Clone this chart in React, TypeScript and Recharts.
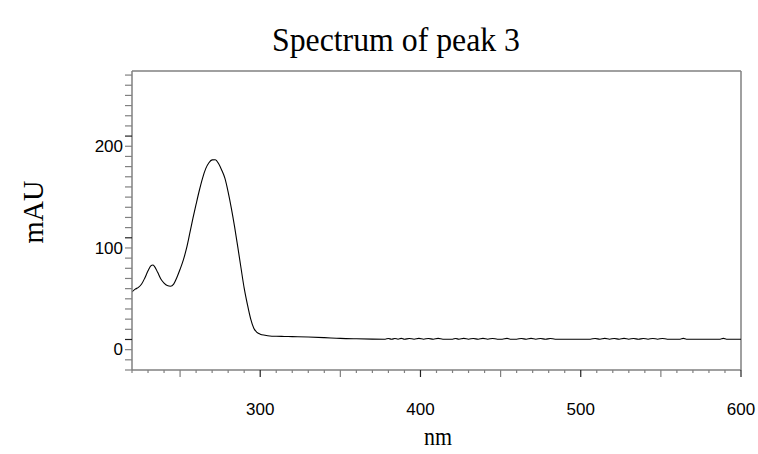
import React from "react";
import { LineChart, Line, XAxis, YAxis, ReferenceLine } from "recharts";

const wavelengths: number[] = [
  220, 222, 224, 226, 228, 230, 232, 233, 234, 236, 238, 240, 242, 244, 246, 248, 250,
  252, 254, 256, 258, 260, 262, 264, 266, 268, 270, 272, 274, 276, 278, 280, 282, 284,
  286, 288, 290, 292, 294, 296, 298, 300, 303, 306, 310, 315, 320, 330, 340, 350, 360,
  370, 378, 380, 382, 384, 386, 388, 390, 393, 396, 399, 402, 405, 408, 411, 414, 417,
  420, 422, 424, 427, 430, 433, 436, 439, 442, 445, 448, 451, 454, 456, 460, 463, 466,
  469, 472, 475, 478, 481, 484, 487, 500, 506, 509, 512, 515, 518, 521, 524, 527, 530,
  533, 536, 539, 542, 545, 548, 551, 554, 558, 562, 564, 566, 575, 587, 589, 591, 600,
];

const absorbance: number[] = [
  46.8, 49.5, 51.2, 54.5, 60.5, 67.5, 72.8, 73.2, 72.0, 66, 59.5, 55.5, 53, 52.4, 54.5, 61, 69,
  78, 89.5, 104, 119, 133, 146.5, 158.5, 168, 173.8, 176.6, 176.8, 173, 166.5, 158.4, 145, 129, 111,
  91, 70.5, 50.5, 34.5, 20.5, 11, 7, 5.2, 4.2, 3.5, 3.2, 3.0, 2.8, 2.4, 1.8, 1.1, 0.7,
  0.4, 0.3, 1.0, 0.2, 1.0, 0.3, 1.1, 0.2, 1.0, 0.3, 1.1, 0.3, 1.0, 0.2, 1.1, 0.3, 0.3,
  0.3, 1.0, 0.2, 1.1, 0.3, 1.0, 0.2, 1.1, 0.3, 1.0, 0.3, 0.3, 1.1, 0.3, 0.3, 1.0, 0.2,
  1.1, 0.3, 1.0, 0.2, 1.0, 0.3, 0.3, 0.3, 0.3, 1.0, 0.2, 1.1, 0.3, 1.0, 0.2, 1.1, 0.3,
  1.0, 0.2, 1.0, 0.3, 1.0, 0.3, 1.0, 0.3, 0.3, 0.3, 1.1, 0.3, 0.3, 0.3, 1.1, 0.3, 0.3,
];

const xTicks: number[] = [];
for (let v = 220; v <= 600; v += 10) xTicks.push(v);
const yTicks: number[] = [];
for (let v = -30; v <= 260; v += 10) yTicks.push(v);
const xLabels = [300, 400, 500, 600];
const yLabels = [0, 100, 200];

const title = "Spectrum of peak 3";
const xTitle = "nm";
const yTitle = "mAU";

const X_DOMAIN: [number, number] = [220, 600];
const Y_DOMAIN: [number, number] = [-30, 264];

const data = wavelengths.map((nm, i) => ({ nm, mAU: absorbance[i] }));

const AXIS_COLOR = "#808080";
const TICK_FONT = "Arial, 'Liberation Sans', sans-serif";
const SERIF = "'Times New Roman', 'Liberation Serif', serif";

const XTick = (props: any) => {
  const { x, y, payload } = props;
  const v = payload.value as number;
  const major = v % 100 === 0;
  const mid = v % 50 === 0;
  const len = major || mid ? 7 : 3;
  return (
    <g>
      <line x1={x} y1={y} x2={x} y2={y + len} stroke={major ? "#222" : AXIS_COLOR} strokeWidth={1.2} />
      {xLabels.includes(v) && (
        <text x={x} y={y + 45} textAnchor="middle" fontFamily={TICK_FONT} fontSize={17} fill="#000">
          {v}
        </text>
      )}
    </g>
  );
};

const YTick = (props: any) => {
  const { x, y, payload } = props;
  const v = payload.value as number;
  const major = v % 100 === 0;
  return (
    <g>
      <line x1={x} y1={y} x2={x - 7} y2={y} stroke={major ? "#222" : AXIS_COLOR} strokeWidth={1.2} />
      {yLabels.includes(v) && (
        <text x={x - 9} y={y + 16} textAnchor="end" fontFamily={TICK_FONT} fontSize={17} fill="#000">
          {v}
        </text>
      )}
    </g>
  );
};

export default function App() {
  return (
    <div style={{ position: "absolute", left: 0, top: 0, width: 758, height: 454, background: "#fff" }}>
      <LineChart
        width={758}
        height={454}
        data={data}
        margin={{ top: 71, right: 17, bottom: 44, left: 72 }}
      >
        <XAxis
          dataKey="nm"
          type="number"
          domain={X_DOMAIN}
          ticks={xTicks}
          interval={0}
          allowDataOverflow
          height={40}
          tickSize={0}
          tickMargin={0}
          tickLine={false}
          axisLine={{ stroke: AXIS_COLOR, strokeWidth: 1.5 }}
          tick={<XTick />}
        />
        <YAxis
          type="number"
          domain={Y_DOMAIN}
          ticks={yTicks}
          interval={0}
          allowDataOverflow
          width={60}
          tickSize={0}
          tickMargin={0}
          tickLine={false}
          axisLine={{ stroke: AXIS_COLOR, strokeWidth: 1.5 }}
          tick={<YTick />}
        />
        <ReferenceLine y={Y_DOMAIN[1]} stroke={AXIS_COLOR} strokeWidth={1.5} />
        <ReferenceLine x={X_DOMAIN[1]} stroke={AXIS_COLOR} strokeWidth={1.5} />
        <Line
          type="monotone"
          dataKey="mAU"
          stroke="#000"
          strokeWidth={1.1}
          dot={false}
          activeDot={false}
          isAnimationActive={false}
        />
      </LineChart>
      <svg
        width={758}
        height={454}
        style={{ position: "absolute", left: 0, top: 0, pointerEvents: "none" }}
      >
        <text
          x={396}
          y={51}
          textAnchor="middle"
          fontFamily={SERIF}
          fontSize={33}
          textLength={248}
          lengthAdjust="spacingAndGlyphs"
          fill="#000"
        >
          {title}
        </text>
        <text
          x={33}
          y={212}
          textAnchor="middle"
          dominantBaseline="central"
          transform="rotate(-90, 33, 212)"
          fontFamily={SERIF}
          fontSize={29}
          textLength={63}
          lengthAdjust="spacingAndGlyphs"
          fill="#000"
        >
          {yTitle}
        </text>
        <text
          x={438}
          y={445}
          textAnchor="middle"
          fontFamily={SERIF}
          fontSize={26}
          textLength={28}
          lengthAdjust="spacingAndGlyphs"
          fill="#000"
        >
          {xTitle}
        </text>
      </svg>
    </div>
  );
}
